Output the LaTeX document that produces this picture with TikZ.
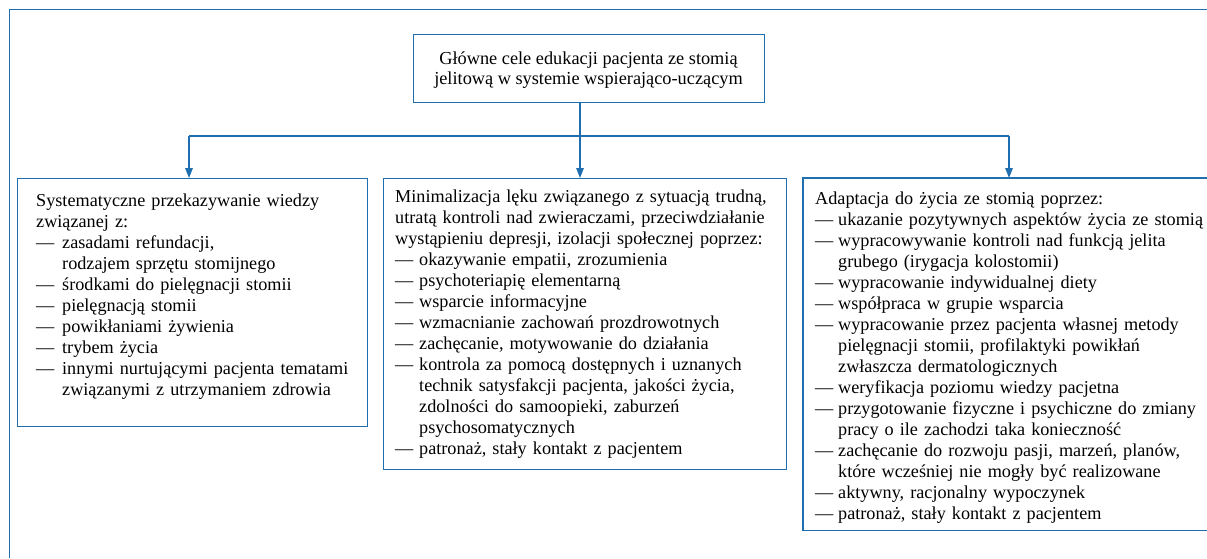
\documentclass[tikz,border=0pt]{standalone}
\usepackage{fontspec}
\setmainfont{Liberation Serif}
\usetikzlibrary{arrows.meta}
\definecolor{frameblue}{RGB}{31,111,176}
\newcommand\dsh[1]{\makebox[#1][l]{—}}
\begin{document}
\begin{tikzpicture}[x=1pt,y=-1pt,
  line/.style={draw=frameblue,line width=1.4pt},
  boxnode/.style={line,rectangle,anchor=north west,inner sep=0pt},
  txt/.style={anchor=base west,inner sep=0pt,text width=#1,align=left,
    font=\fontsize{18.2}{21}\selectfont},
  tip/.style={-{Triangle[length=10pt,width=7.5pt]}}]
\useasboundingbox (0,0) rectangle (1207,558);
% outer frame (top and left)
\draw[line,line width=1.5pt] (9.5,558) -- (9.5,9.5) -- (1207,9.5);
% title
\node[boxnode,minimum width=351pt,minimum height=68pt] (title) at (413,34) {};
\node[align=center,inner sep=0pt,font=\fontsize{18.3}{20.4}\selectfont] (titletxt) at (588.5,70)
  {Główne cele edukacji pacjenta ze stomią\\jelitową w systemie wspierająco-uczącym};
% boxes
\node[boxnode,minimum width=350pt,minimum height=248pt] (lbox) at (17,178) {};
\node[boxnode,minimum width=403pt,minimum height=291pt] (mbox) at (383,178) {};
\node[anchor=north west,inner sep=0pt,minimum width=420pt,minimum height=352pt] (rbox) at (803,178) {};
\draw[line] ([xshift=20pt]rbox.north east) -- (rbox.north west) -- (rbox.south west) -- ([xshift=20pt]rbox.south east);
% connectors
\coordinate (split) at (580,136);
\coordinate (aL) at (189,178);
\coordinate (aM) at (580,178);
\coordinate (aR) at (1009,178);
\draw[line] (title.south -| split) -- (split);
\draw[line,line width=2pt] (split -| aL) -- (split -| aR);
\draw[line,tip] (split -| aL) -- (aL);
\draw[line,tip] (split) -- (aM);
\draw[line,tip] (split -| aR) -- (aR);
% texts
\node[txt=330pt] (ltxt) at (36,206) {Systematyczne przekazywanie wiedzy\\
związanej z:\\
\dsh{26pt}zasadami refundacji,\\
\hspace*{26pt}rodzajem sprzętu stomijnego\\
\dsh{26pt}środkami do pielęgnacji stomii\\
\dsh{26pt}pielęgnacją stomii\\
\dsh{26pt}powikłaniami żywienia\\
\dsh{26pt}trybem życia\\
\dsh{26pt}innymi nurtującymi pacjenta tematami\\
\hspace*{26pt}związanymi z utrzymaniem zdrowia};
\node[txt=390pt] (mtxt) at (395,202) {Minimalizacja lęku związanego z sytuacją trudną,\\
utratą kontroli nad zwieraczami, przeciwdziałanie\\
wystąpieniu depresji, izolacji społecznej poprzez:\\
\dsh{24pt}okazywanie empatii, zrozumienia\\
\dsh{24pt}psychoteriapię elementarną\\
\dsh{24pt}wsparcie informacyjne\\
\dsh{24pt}wzmacnianie zachowań prozdrowotnych\\
\dsh{24pt}zachęcanie, motywowanie do działania\\
\dsh{24pt}kontrola za pomocą dostępnych i uznanych\\
\hspace*{24pt}technik satysfakcji pacjenta, jakości życia,\\
\hspace*{24pt}zdolności do samoopieki, zaburzeń\\
\hspace*{24pt}psychosomatycznych\\
\dsh{24pt}patronaż, stały kontakt z pacjentem};
\node[txt=400pt] (rtxt) at (815,204) {Adaptacja do życia ze stomią poprzez:\\
\dsh{23pt}ukazanie pozytywnych aspektów życia ze stomią\\
\dsh{23pt}wypracowywanie kontroli nad funkcją jelita\\
\hspace*{23pt}grubego (irygacja kolostomii)\\
\dsh{23pt}wypracowanie indywidualnej diety\\
\dsh{23pt}współpraca w grupie wsparcia\\
\dsh{23pt}wypracowanie przez pacjenta własnej metody\\
\hspace*{23pt}pielęgnacji stomii, profilaktyki powikłań\\
\hspace*{23pt}zwłaszcza dermatologicznych\\
\dsh{23pt}weryfikacja poziomu wiedzy pacjetna\\
\dsh{23pt}przygotowanie fizyczne i psychiczne do zmiany\\
\hspace*{23pt}pracy o ile zachodzi taka konieczność\\
\dsh{23pt}zachęcanie do rozwoju pasji, marzeń, planów,\\
\hspace*{23pt}które wcześniej nie mogły być realizowane\\
\dsh{23pt}aktywny, racjonalny wypoczynek\\
\dsh{23pt}patronaż, stały kontakt z pacjentem};
\end{tikzpicture}
\end{document}
